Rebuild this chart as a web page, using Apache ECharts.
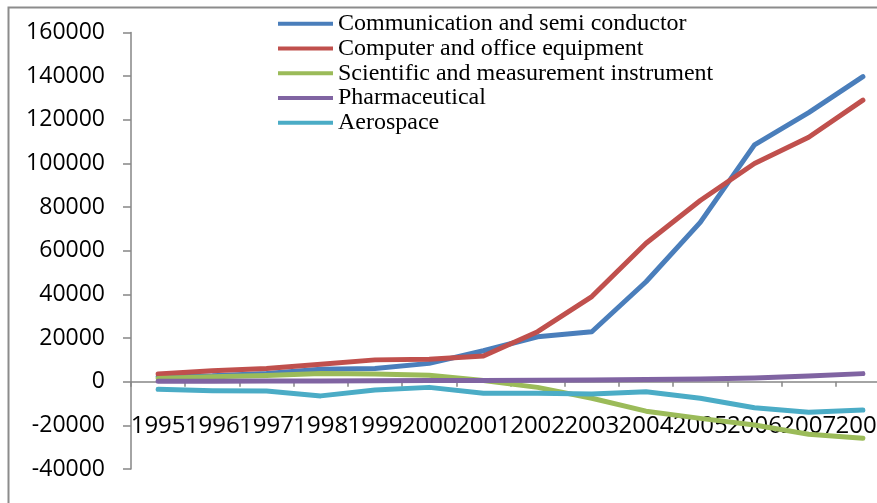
<!DOCTYPE html>
<html>
<head>
<meta charset="utf-8">
<script src="https://cdn.jsdelivr.net/npm/echarts@6/dist/echarts.min.js"></script>
<style>html,body{margin:0;padding:0;background:#fff;}#c{width:877px;height:503px;}</style>
</head>
<body>
<div id="c"></div>
<script>
var years = ['1995','1996','1997','1998','1999','2000','2001','2002','2003','2004','2005','2006','2007','2008'];
var communication = [2300, 2700, 3800, 5700, 6100, 8400, 14200, 20600, 22900, 45800, 73000, 108500, 123300, 139800];
var computer = [3500, 5000, 6000, 8000, 10000, 10300, 11800, 22900, 39000, 63400, 83000, 100000, 112000, 129000];
var scientific = [1500, 2300, 2800, 3800, 3500, 3000, 500, -2600, -7600, -13500, -16800, -19800, -24100, -25900];
var pharmaceutical = [200, 200, 300, 300, 400, 500, 600, 700, 800, 1000, 1200, 1700, 2600, 3700];
var aerospace = [-3500, -4100, -4300, -6500, -3800, -2600, -5300, -5300, -5600, -4600, -7600, -11900, -14000, -13000];
var seriesNames = ['Communication and semi conductor', 'Computer and office equipment', 'Scientific and measurement instrument', 'Pharmaceutical', 'Aerospace'];
var seriesColors = ['#4A7EBB', '#C0504D', '#9BBB59', '#8064A2', '#4BACC6'];
var seriesValues = [communication, computer, scientific, pharmaceutical, aerospace];

var chart = echarts.init(document.getElementById('c'), null, {renderer: 'canvas'});
var axisColor = '#868686';
var option = {
  animation: false,
  backgroundColor: '#fff',
  graphic: [{
    type: 'rect', z: -10,
    shape: {x: 8.5, y: 7.5, width: 1000, height: 700},
    style: {fill: 'none', stroke: '#8c8c8c', lineWidth: 2}
  }],
  legend: {
    orient: 'vertical',
    left: 278, top: 11.5,
    padding: 0,
    itemGap: 0,
    itemWidth: 55,
    itemHeight: 4,
    icon: 'rect',
    data: seriesNames,
    textStyle: {fontFamily: 'Liberation Serif', fontSize: 24, color: '#000', lineHeight: 24.7}
  },
  grid: {left: 131, top: 32.5, width: 759, height: 436.5, containLabel: false, outerBoundsMode: 'none'},
  xAxis: {
    type: 'category',
    data: years,
    boundaryGap: true,
    offset: -87.3,
    axisLine: {onZero: false, lineStyle: {color: axisColor, width: 1.5}},
    axisTick: {show: true, length: 5, lineStyle: {color: axisColor, width: 1.5}},
    axisLabel: {interval: 0, margin: 32, fontFamily: 'Open Sans', fontSize: 24, color: '#000', hideOverlap: false},
    splitLine: {show: false}
  },
  yAxis: {
    type: 'value',
    min: -40000, max: 160000, interval: 20000,
    axisLine: {show: true, onZero: false, lineStyle: {color: axisColor, width: 1.5}},
    axisTick: {show: true, length: 8, lineStyle: {color: axisColor, width: 1.5}},
    axisLabel: {margin: 26, fontFamily: 'Open Sans', fontSize: 23, color: '#000', formatter: function (v) { return String(v); }},
    splitLine: {show: false}
  },
  series: seriesNames.map(function (n, i) {
    return {
      name: n, type: 'line', data: seriesValues[i],
      symbol: 'none',
      color: seriesColors[i],
      itemStyle: {color: seriesColors[i]},
      lineStyle: {width: 5, color: seriesColors[i], cap: 'round', join: 'round'}
    };
  })
};
chart.setOption(option);
</script>
</body>
</html>
